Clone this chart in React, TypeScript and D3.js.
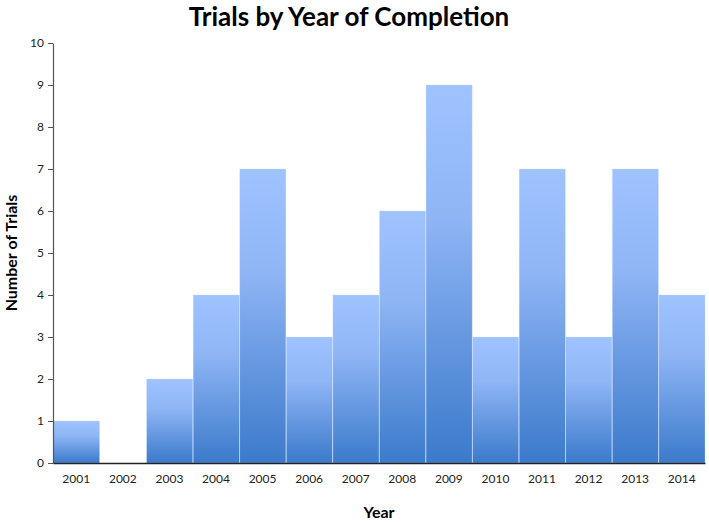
import React, { useEffect, useRef } from 'react';
import * as d3 from 'd3';

const years = ['2001', '2002', '2003', '2004', '2005', '2006', '2007', '2008', '2009', '2010', '2011', '2012', '2013', '2014'];
const trials = [1, 0, 2, 4, 7, 3, 4, 6, 9, 3, 7, 3, 7, 4];
const yTicks = [0, 1, 2, 3, 4, 5, 6, 7, 8, 9, 10];

const App = () => {
  const svgRef = useRef<SVGSVGElement>(null);

  useEffect(() => {
    const svg = d3.select(svgRef.current);
    svg.selectAll('*').remove();
    const width = 709;
    const height = 524;
    const margin = { top: 43, right: 4, bottom: 61, left: 53 };
    const innerWidth = width - margin.left - margin.right;
    const innerHeight = height - margin.top - margin.bottom;

    // bar gradient, light on top
    const defs = svg.append('defs');
    const grad = defs.append('linearGradient')
      .attr('id', 'barGrad')
      .attr('x1', 0).attr('y1', 0).attr('x2', 0).attr('y2', 1);
    grad.append('stop').attr('offset', '0%').attr('stop-color', '#9fc3ff');
    grad.append('stop').attr('offset', '35%').attr('stop-color', '#8fb5f5');
    grad.append('stop').attr('offset', '100%').attr('stop-color', '#3b7acb');

    const g = svg.append('g')
      .attr('transform', `translate(${margin.left},${margin.top})`);

    const x = d3.scaleBand()
      .domain(years)
      .range([0, innerWidth])
      .padding(0);

    const y = d3.scaleLinear()
      .domain([0, 10])
      .range([innerHeight, 0]);

    // bars
    g.selectAll('.bar')
      .data(years.map((yr, i) => ({ yr, v: trials[i] })).filter(d => d.v > 0))
      .enter()
      .append('rect')
      .attr('class', 'bar')
      .attr('x', d => x(d.yr)! + 0.5)
      .attr('width', x.bandwidth() - 0.5)
      .attr('y', d => y(d.v))
      .attr('height', d => innerHeight - y(d.v))
      .attr('fill', 'url(#barGrad)')
      .attr('stroke', '#c8dbff')
      .attr('stroke-opacity', 0.5)
      .attr('stroke-width', 0.6);

    const font = 'Lato, Carlito, "Liberation Sans", sans-serif';

    // y axis
    const yAxis = g.append('g')
      .call(d3.axisLeft(y).tickValues(yTicks).tickSize(5).tickSizeOuter(0).tickPadding(4));
    yAxis.select('.domain').attr('stroke', '#555').attr('stroke-width', 1.2);
    yAxis.selectAll('.tick line').attr('stroke', '#555');
    yAxis.selectAll('.tick text')
      .attr('font-family', font)
      .attr('font-size', 12)
      .attr('fill', '#222');

    // x axis
    const xAxis = g.append('g')
      .attr('transform', `translate(0,${innerHeight})`)
      .call(d3.axisBottom(x).tickSize(0).tickPadding(11));
    xAxis.select('.domain').attr('stroke', '#222').attr('stroke-width', 1.6);
    xAxis.selectAll('.tick text')
      .attr('font-family', font)
      .attr('font-size', 12)
      .attr('fill', '#222');

    // title
    svg.append('text')
      .attr('x', 349)
      .attr('y', 26)
      .attr('text-anchor', 'middle')
      .attr('font-family', font)
      .attr('font-weight', 'bold')
      .attr('font-size', 26)
      .attr('fill', '#000')
      .text('Trials by Year of Completion');

    // y label
    svg.append('text')
      .attr('transform', 'translate(17,253) rotate(-90)')
      .attr('text-anchor', 'middle')
      .attr('font-family', font)
      .attr('font-weight', 'bold')
      .attr('font-size', 16)
      .attr('fill', '#000')
      .text('Number of Trials');

    // x label
    svg.append('text')
      .attr('x', margin.left + innerWidth / 2)
      .attr('y', 518)
      .attr('text-anchor', 'middle')
      .attr('font-family', font)
      .attr('font-weight', 'bold')
      .attr('font-size', 16)
      .attr('fill', '#000')
      .text('Year');
  }, []);

  return (
    <svg
      ref={svgRef}
      width={709}
      height={524}
      style={{ position: 'absolute', left: 0, top: 0, background: '#fff' }}
    ></svg>
  );
};

export default App;
